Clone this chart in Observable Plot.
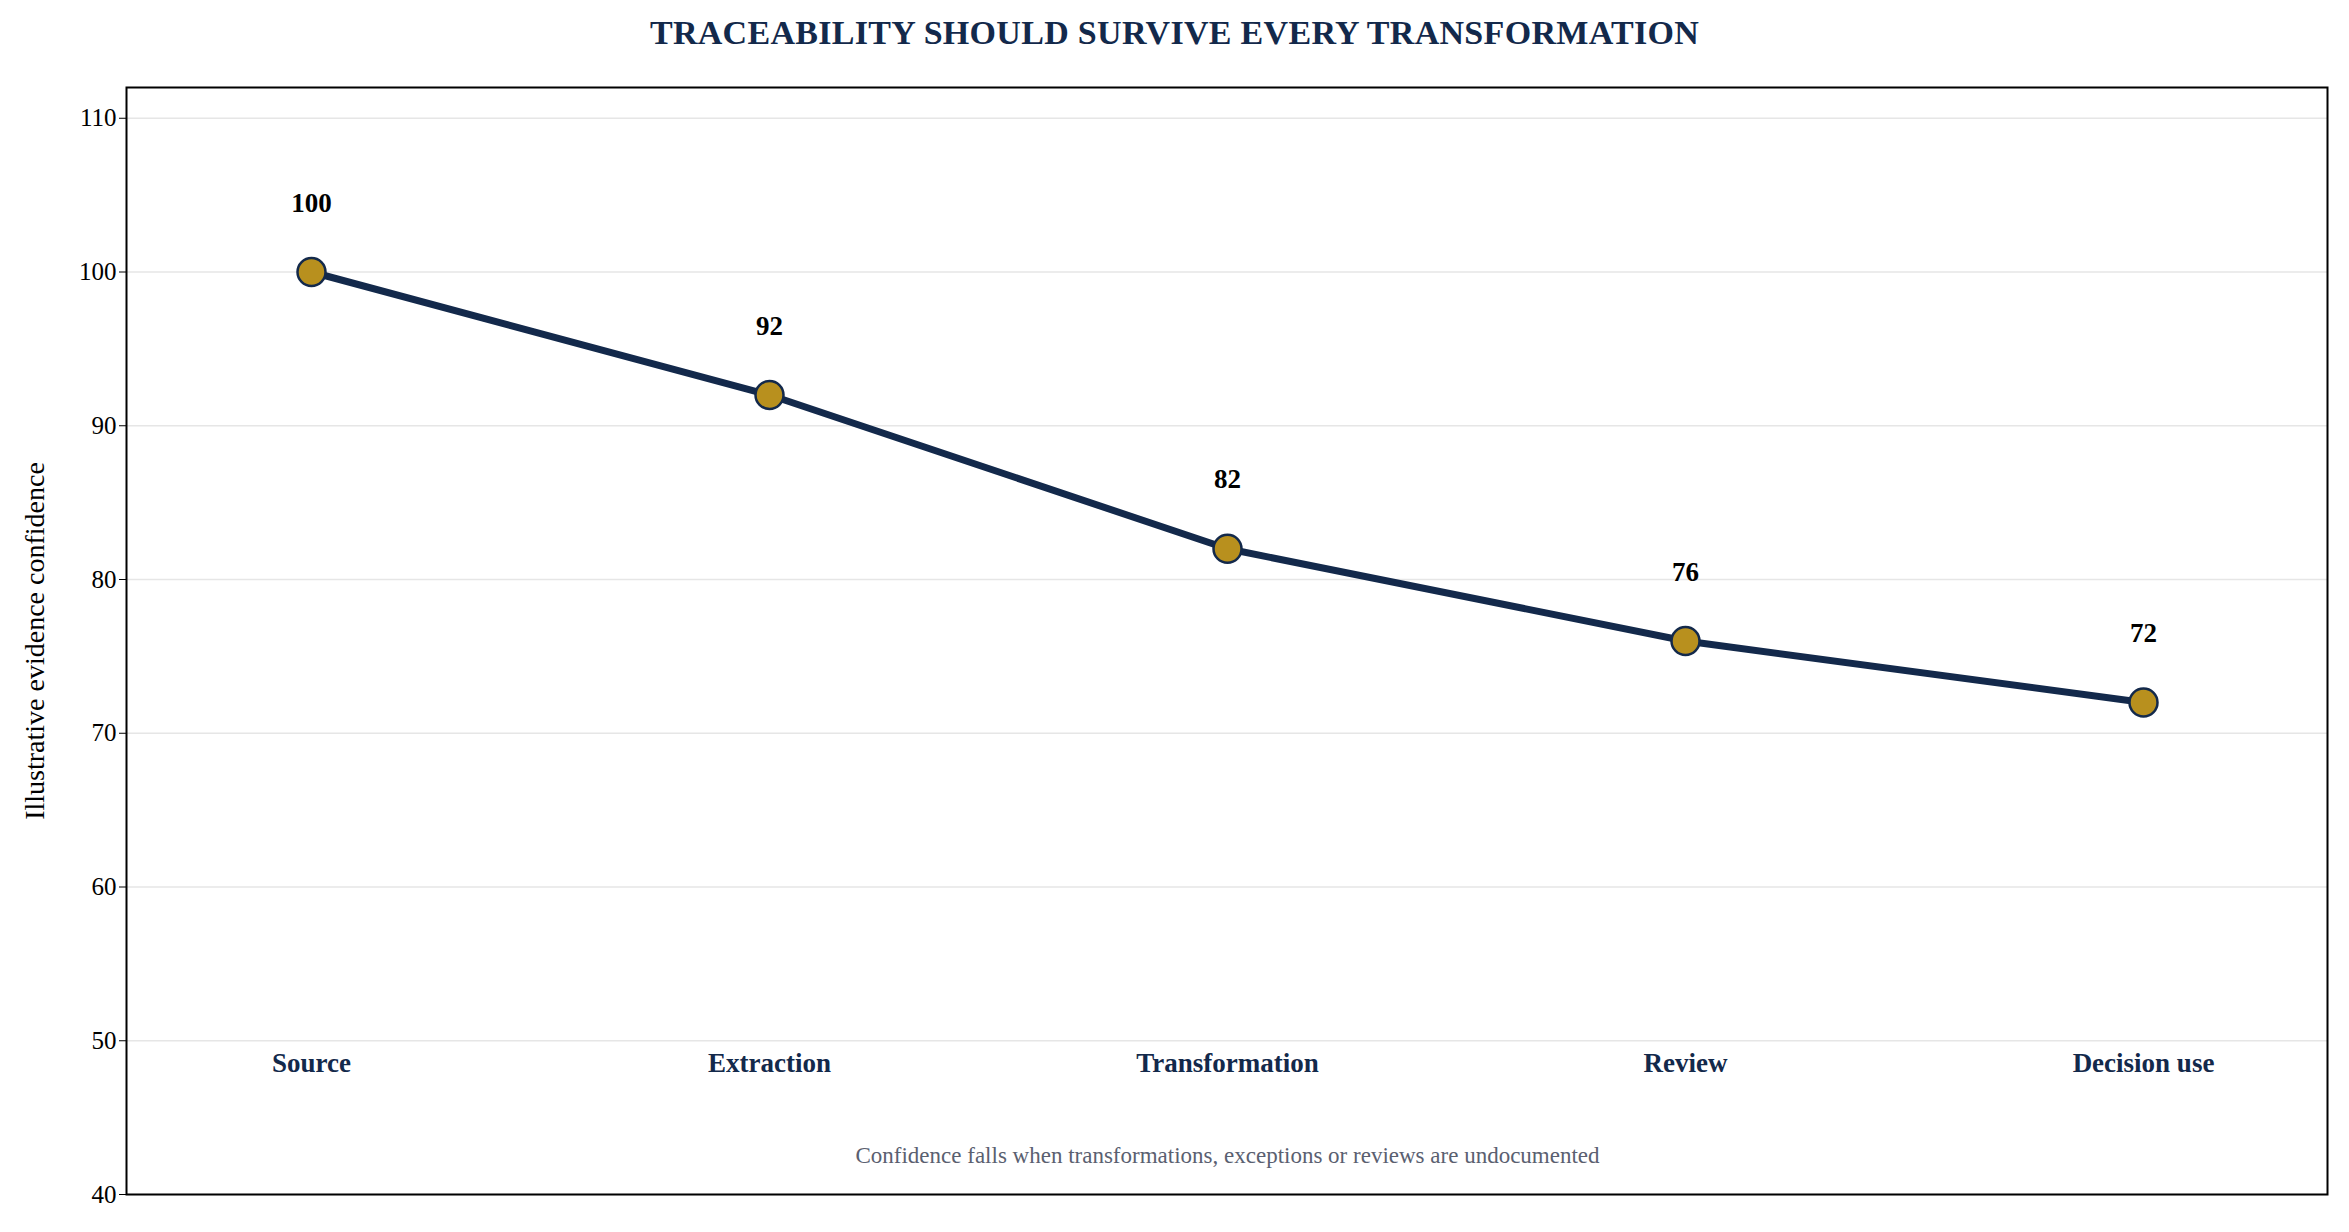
<!DOCTYPE html>
<html><head><meta charset="utf-8">
<script src="https://cdn.jsdelivr.net/npm/d3@7"></script>
<script src="https://cdn.jsdelivr.net/npm/@observablehq/plot@0.6"></script>
<style>
body{margin:0;background:#fff;font-family:"Liberation Serif",serif}
#title{height:60px;line-height:66px;text-align:center;font-weight:bold;font-size:34px;color:#13294b;letter-spacing:0.3px}
</style></head><body>
<div id="title">TRACEABILITY SHOULD SURVIVE EVERY TRANSFORMATION</div>
<div id="chart"></div>
<script>
const stages = ["Source","Extraction","Transformation","Review","Decision use"];
const confidence = [100,92,82,76,72];
const yTicks = [40,50,60,70,80,90,100,110];
const caption = "Confidence falls when transformations, exceptions or reviews are undocumented";
const data = stages.map((s,i)=>({stage:s,value:confidence[i]}));
const navy = "#13294b", gold = "#b8901e";
const chart = Plot.plot({
  width:2349, height:1172,
  marginTop:27, marginBottom:38, marginLeft:126, marginRight:22,
  style:{fontFamily:"Liberation Serif, serif", fontSize:"26px", color:"#000", background:"#fff"},
  x:{type:"point", domain:stages, padding:0.4, axis:null},
  y:{domain:[40,112]},
  marks:[
    Plot.gridY(yTicks,{stroke:"#e6e6e6", strokeOpacity:1, strokeWidth:1.5}),
    Plot.axisY({ticks:yTicks, tickSize:7, fontSize:25, label:null}),
    Plot.axisY({ticks:yTicks, tickSize:0, tickFormat:()=>"", fontSize:28, label:"Illustrative evidence confidence", labelAnchor:"center", labelArrow:"none", labelOffset:102}),
    Plot.frame({stroke:"#000", strokeWidth:2}),
    Plot.line(data,{x:"stage", y:"value", stroke:navy, strokeWidth:7}),
    Plot.dot(data,{x:"stage", y:"value", r:14, fill:gold, stroke:navy, strokeWidth:2.5}),
    Plot.text(data,{x:"stage", y:"value", text:d=>String(d.value), dy:-69, fontWeight:"bold", fontSize:27, fill:"#000"}),
    Plot.text(stages,{x:d=>d, y:48.5, text:d=>d, fontWeight:"bold", fontSize:27, fill:navy}),
    Plot.text([caption],{x:()=> "Transformation", y:42.5, text:d=>d, fontSize:23, fill:"#5a6070"})
  ]
});
document.getElementById("chart").appendChild(chart);
</script></body></html>
